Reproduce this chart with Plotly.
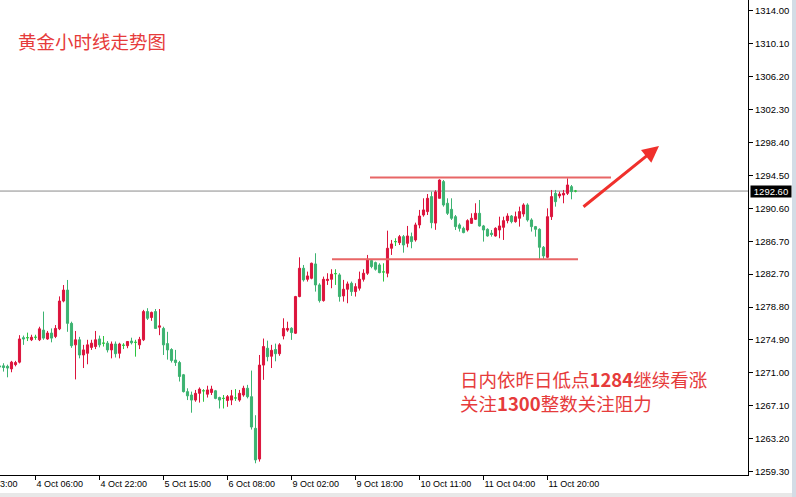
import numpy as np
import plotly.graph_objects as go

# ---------------- data (hourly gold candles) ----------------
opens = [
    1271.85, 1271.86, 1271.8, 1271.5, 1272.0, 1272.3, 1275.2, 1275.2, 1274.95, 1275.25,
    1274.95, 1276.1, 1275.05, 1275.75, 1275.35, 1276.25, 1279.55, 1280.85, 1276.9, 1274.35,
    1274.95, 1273.15, 1273.35, 1274.05, 1274.15, 1275.05, 1274.55, 1274.55, 1273.75, 1274.45,
    1273.35, 1274.3, 1274.25, 1274.8, 1274.65, 1274.35, 1274.95, 1278.3, 1277.6, 1278.3,
    1276.45, 1276.3, 1274.5, 1273.8, 1272.55, 1272.25, 1270.8, 1268.8, 1268.4, 1267.8,
    1268.6, 1268.9, 1268.5, 1268.7, 1268.9, 1268.1, 1268.0, 1267.75, 1267.8, 1268.05,
    1267.8, 1268.4, 1269.2, 1268.2, 1264.45, 1260.8, 1271.95, 1273.95, 1273.0, 1273.8,
    1273.3, 1275.4, 1276.1, 1276.32, 1275.73, 1280.08, 1283.44, 1282.13, 1282.25, 1283.95,
    1281.46, 1279.6, 1281.98, 1282.13, 1282.8, 1282.65, 1280.16, 1280.95, 1281.66, 1280.67,
    1281.07, 1282.13, 1282.85, 1284.35, 1284.11, 1283.83, 1283.0, 1282.85, 1285.81, 1286.6,
    1286.48, 1287.19, 1286.4, 1287.19, 1286.8, 1288.58, 1289.76, 1290.16, 1291.94, 1288.8,
    1291.74, 1293.72, 1291.15, 1290.43, 1289.56, 1288.58, 1288.18, 1287.98, 1288.77, 1289.25,
    1289.96, 1288.46, 1288.06, 1287.6, 1287.27, 1287.98, 1288.3, 1289.09, 1289.64, 1288.97,
    1289.37, 1289.88, 1290.95, 1289.17, 1288.38, 1288.06, 1285.93, 1284.74, 1289.56, 1292.33,
    1292.02, 1292.13, 1292.33, 1293.12, 1292.6,
]
highs = [
    1272.0, 1272.17, 1272.0, 1272.45, 1272.45, 1275.5, 1275.45, 1275.8, 1275.55, 1275.55,
    1276.5, 1278.3, 1276.0, 1276.3, 1276.7, 1280.1, 1281.45, 1282.05, 1277.1, 1276.0,
    1275.3, 1274.35, 1274.95, 1274.95, 1276.0, 1275.45, 1275.4, 1274.8, 1274.75, 1274.75,
    1274.6, 1274.55, 1274.8, 1275.2, 1274.95, 1275.3, 1278.5, 1278.7, 1278.3, 1278.6,
    1278.6, 1276.5, 1275.9, 1273.95, 1273.75, 1272.45, 1270.9, 1269.2, 1268.8, 1269.0,
    1269.3, 1269.1, 1269.5, 1269.5, 1269.0, 1268.2, 1268.4, 1268.4, 1269.0, 1269.1,
    1269.0, 1269.5, 1269.6, 1271.3, 1266.0, 1273.15, 1275.1, 1274.85, 1274.35, 1274.5,
    1274.55, 1277.5, 1277.1, 1276.44, 1280.16, 1284.74, 1283.83, 1283.04, 1284.11, 1285.22,
    1281.66, 1282.45, 1282.85, 1283.32, 1283.32, 1282.85, 1282.06, 1281.86, 1281.86, 1281.66,
    1283.04, 1283.32, 1285.02, 1284.51, 1284.23, 1284.03, 1284.03, 1287.9, 1286.8, 1287.0,
    1287.39, 1287.39, 1288.46, 1287.67, 1288.85, 1290.36, 1291.74, 1292.25, 1292.53, 1292.7,
    1293.99, 1293.91, 1291.74, 1291.74, 1289.76, 1288.77, 1288.38, 1289.25, 1289.96, 1291.15,
    1291.54, 1288.58, 1288.18, 1287.98, 1288.3, 1289.56, 1289.56, 1289.96, 1289.76, 1290.16,
    1290.75, 1291.15, 1291.15, 1289.37, 1288.46, 1288.18, 1286.08, 1290.55, 1292.73, 1292.73,
    1292.53, 1292.73, 1294.11, 1293.32, 1292.73,
]
lows = [
    1271.6, 1271.18, 1270.5, 1271.1, 1271.8, 1272.15, 1274.35, 1274.8, 1274.8, 1274.95,
    1274.8, 1274.95, 1274.95, 1274.65, 1275.15, 1276.1, 1279.4, 1275.9, 1274.0, 1270.25,
    1272.75, 1271.6, 1272.05, 1273.75, 1273.85, 1274.05, 1274.15, 1273.45, 1272.75, 1272.85,
    1272.75, 1273.85, 1273.95, 1274.4, 1272.95, 1273.85, 1274.8, 1277.3, 1277.2, 1276.3,
    1275.5, 1273.15, 1272.6, 1272.25, 1271.85, 1270.0, 1268.7, 1267.8, 1266.3, 1267.6,
    1267.5, 1267.6, 1268.1, 1268.4, 1267.9, 1266.8, 1266.8, 1267.0, 1267.2, 1267.7,
    1267.6, 1268.2, 1268.0, 1264.3, 1260.3, 1260.5, 1270.2, 1272.4, 1271.6, 1272.4,
    1273.05, 1275.0, 1275.9, 1274.94, 1275.65, 1280.0, 1281.86, 1281.86, 1282.13, 1280.67,
    1279.37, 1279.48, 1281.46, 1281.07, 1281.46, 1279.48, 1279.48, 1279.29, 1280.16, 1280.08,
    1280.79, 1281.86, 1282.65, 1283.44, 1283.16, 1282.85, 1281.86, 1282.37, 1285.02, 1286.08,
    1286.2, 1285.29, 1285.93, 1285.81, 1286.6, 1288.18, 1289.56, 1289.76, 1288.18, 1288.0,
    1291.74, 1290.75, 1289.76, 1289.17, 1287.98, 1287.79, 1287.59, 1287.79, 1288.69, 1289.17,
    1288.38, 1286.6, 1287.19, 1287.19, 1287.19, 1287.0, 1286.8, 1288.77, 1288.77, 1288.85,
    1288.38, 1289.56, 1288.97, 1287.79, 1287.19, 1284.5, 1284.5, 1284.62, 1289.17, 1290.75,
    1291.74, 1291.15, 1292.13, 1291.62, 1292.45,
]
closes = [
    1271.75, 1271.66, 1271.6, 1272.3, 1272.25, 1275.05, 1275.05, 1275.2, 1275.25, 1275.25,
    1276.25, 1275.15, 1275.75, 1275.15, 1276.3, 1279.55, 1280.85, 1276.9, 1274.25, 1274.95,
    1273.15, 1273.75, 1274.35, 1274.55, 1274.95, 1274.35, 1274.55, 1273.75, 1274.45, 1273.3,
    1274.45, 1274.3, 1274.75, 1274.6, 1274.65, 1275.0, 1278.3, 1277.5, 1278.2, 1276.3,
    1276.6, 1274.35, 1273.75, 1272.5, 1272.25, 1270.6, 1268.8, 1268.3, 1267.8, 1268.6,
    1269.1, 1268.9, 1269.0, 1269.1, 1268.0, 1267.8, 1268.0, 1268.2, 1268.3, 1268.05,
    1268.6, 1269.2, 1268.2, 1264.6, 1260.7, 1271.95, 1274.15, 1272.95, 1273.7, 1273.3,
    1274.35, 1276.3, 1276.3, 1275.81, 1280.08, 1283.44, 1282.06, 1282.53, 1284.03, 1281.46,
    1279.6, 1282.13, 1282.13, 1282.73, 1282.8, 1280.08, 1280.95, 1281.58, 1280.67, 1281.26,
    1282.13, 1282.85, 1284.51, 1283.64, 1283.32, 1282.92, 1283.0, 1285.81, 1286.32, 1286.6,
    1287.19, 1286.2, 1287.27, 1286.6, 1288.58, 1289.64, 1290.36, 1291.74, 1288.85, 1292.5,
    1293.91, 1290.95, 1289.96, 1289.37, 1288.38, 1288.18, 1287.67, 1289.09, 1289.37, 1289.96,
    1288.46, 1287.98, 1287.27, 1287.45, 1288.18, 1288.46, 1289.09, 1289.64, 1288.97, 1289.56,
    1290.16, 1290.95, 1289.17, 1288.38, 1288.06, 1285.93, 1284.9, 1289.56, 1291.94, 1291.34,
    1292.25, 1292.33, 1293.32, 1292.53, 1292.6,
]

x_tick_labels = ["3 Oct 13:00", "4 Oct 06:00", "4 Oct 22:00", "5 Oct 15:00", "6 Oct 08:00",
                 "9 Oct 02:00", "9 Oct 18:00", "10 Oct 11:00", "11 Oct 04:00", "11 Oct 20:00"]
x_tick_bars = [-7, 9, 25, 41, 57, 73, 89, 105, 121, 137]
y_tick_labels = ["1259.30", "1263.20", "1267.10", "1271.00", "1274.90", "1278.80", "1282.70",
                 "1286.70", "1290.60", "1294.50", "1298.40", "1302.30", "1306.20", "1310.10", "1314.00"]
Y_MIN_TICK, Y_MAX_TICK = 1259.30, 1314.00

RESISTANCE = 1294.2
SUPPORT = 1284.5
LAST_PRICE = 1292.60

title_text = "黄金小时线走势图"
note_line1 = "日内依昨日低点<b>1284</b>继续看涨"
note_line2 = "关注<b>1300</b>整数关注阻力"

# ---------------- layout geometry ----------------
W, H = 796, 497
PL, PR, PT, PB = 0, 748, 0, 475          # plot area in pixels
BAR_PX, BAR0_PX = 4.0, -0.5               # bar spacing / position of bar 0
X_RANGE = [(PL - BAR0_PX) / BAR_PX, (PR - BAR0_PX) / BAR_PX]
PX_PER_UNIT = (471.7 - 10.7) / (Y_MAX_TICK - Y_MIN_TICK)
Y_RANGE = [Y_MAX_TICK - (PB - 10.7) / PX_PER_UNIT, Y_MAX_TICK + 10.7 / PX_PER_UNIT]


def px_x(px):
    return (px - PL) / (PR - PL)


def px_y(py):
    return (PB - py) / (PB - PT)


def bar_of_px(px):
    return (px - BAR0_PX) / BAR_PX


n = min(len(opens), len(highs), len(lows), len(closes))
idx = list(range(n))
is_doji = [opens[i] == closes[i] for i in idx]

UP = "#DC143C"
DOWN = "#3CB371"
DOJI = "#2BC43F"
LINE_RED = "#E86666"
TEXT_RED = "#E63B3B"
CJK_FONT = "Noto Sans CJK SC"
TICK_FONT = "Liberation Sans, Arial"


def sel(arr, want):
    return [arr[i] for i in idx if is_doji[i] == want]


fig = go.Figure()
fig.add_trace(go.Candlestick(
    x=sel(idx, False), open=sel(opens, False), high=sel(highs, False),
    low=sel(lows, False), close=sel(closes, False),
    increasing=dict(line=dict(color=UP, width=1), fillcolor=UP),
    decreasing=dict(line=dict(color=DOWN, width=1), fillcolor=DOWN),
    whiskerwidth=0, hoverinfo="skip", showlegend=False,
))
fig.add_trace(go.Candlestick(
    x=sel(idx, True), open=sel(opens, True), high=sel(highs, True),
    low=sel(lows, True), close=sel(closes, True),
    increasing=dict(line=dict(color=DOJI, width=1), fillcolor=DOJI),
    decreasing=dict(line=dict(color=DOJI, width=1), fillcolor=DOJI),
    whiskerwidth=0, hoverinfo="skip", showlegend=False,
))

shapes = [
    # current price line
    dict(type="line", xref="paper", yref="y", x0=0, x1=1, y0=LAST_PRICE, y1=LAST_PRICE,
         line=dict(color="#8A8A8A", width=1), layer="below"),
    # resistance / support lines
    dict(type="line", xref="x", yref="y", x0=bar_of_px(370), x1=bar_of_px(611),
         y0=RESISTANCE, y1=RESISTANCE, line=dict(color=LINE_RED, width=2)),
    dict(type="line", xref="x", yref="y", x0=bar_of_px(332), x1=bar_of_px(578),
         y0=SUPPORT, y1=SUPPORT, line=dict(color=LINE_RED, width=2)),
    # window frame strips
    dict(type="rect", xref="paper", yref="paper", x0=px_x(792), x1=px_x(797),
         y0=px_y(498), y1=px_y(-1), fillcolor="#D3DCE6", line=dict(width=0)),
    dict(type="rect", xref="paper", yref="paper", x0=px_x(-1), x1=px_x(792),
         y0=px_y(498), y1=px_y(493), fillcolor="#E8E8E8", line=dict(width=0)),
]

annotations = [
    dict(xref="paper", yref="paper", x=px_x(16), y=px_y(41), xanchor="left", yanchor="middle",
         text=title_text, showarrow=False,
         font=dict(family=CJK_FONT, size=18.5, color=TEXT_RED)),
    dict(xref="paper", yref="paper", x=px_x(458), y=px_y(379), xanchor="left", yanchor="middle",
         text=note_line1, showarrow=False,
         font=dict(family=CJK_FONT, size=18.5, color=TEXT_RED)),
    dict(xref="paper", yref="paper", x=px_x(458), y=px_y(403), xanchor="left", yanchor="middle",
         text=note_line2, showarrow=False,
         font=dict(family=CJK_FONT, size=18.5, color=TEXT_RED)),
    # arrow
    dict(xref="paper", yref="paper", x=px_x(659), y=px_y(146), ax=582 - 659, ay=208 - 146,
         text="", showarrow=True, arrowhead=2, arrowsize=1.1, arrowwidth=3,
         arrowcolor="#F0302C", standoff=0),
    # last price tag
    dict(xref="paper", yref="y", x=px_x(750), y=LAST_PRICE, xanchor="left", yanchor="middle",
         text="1292.60", showarrow=False, bgcolor="#000000", borderpad=0,
         width=40, height=11, align="center",
         font=dict(family=TICK_FONT, size=9.5, color="#FFFFFF")),
    # first time label, partly beyond the left edge as in the original
    dict(xref="paper", yref="paper", x=px_x(19.5), y=px_y(484),
         xanchor="right", yanchor="middle", text=x_tick_labels[0], showarrow=False,
         font=dict(family=TICK_FONT, size=9, color="#000000")),
]

fig.update_layout(
    width=W, height=H,
    margin=dict(l=PL, r=W - PR, t=PT, b=H - PB, pad=0),
    paper_bgcolor="#FFFFFF", plot_bgcolor="#FFFFFF",
    showlegend=False, hovermode=False,
    boxgap=0.25,
    shapes=shapes, annotations=annotations,
    xaxis=dict(
        range=X_RANGE, tickvals=x_tick_bars[1:], ticktext=x_tick_labels[1:],
        ticks="outside", ticklen=4, tickcolor="#000000", tickwidth=1,
        showline=True, linecolor="#000000", linewidth=1,
        showgrid=False, zeroline=False, automargin=False,
        ticklabelposition="outside right",
        tickfont=dict(family=TICK_FONT, size=9, color="#000000"),
        rangeslider=dict(visible=False), fixedrange=True,
    ),
    yaxis=dict(
        side="right", range=Y_RANGE,
        tickvals=list(np.linspace(Y_MIN_TICK, Y_MAX_TICK, len(y_tick_labels))),
        ticktext=y_tick_labels,
        ticks="outside", ticklen=4, tickcolor="#000000", tickwidth=1,
        showline=True, linecolor="#000000", linewidth=1,
        showgrid=False, zeroline=False, automargin=False,
        tickfont=dict(family=TICK_FONT, size=9.5, color="#000000"),
        fixedrange=True,
    ),
)

fig.write_html(
    "out.html",
    config={"displayModeBar": False},
    post_script="document.body.style.margin='0px'; document.documentElement.style.overflow='hidden';",
)
